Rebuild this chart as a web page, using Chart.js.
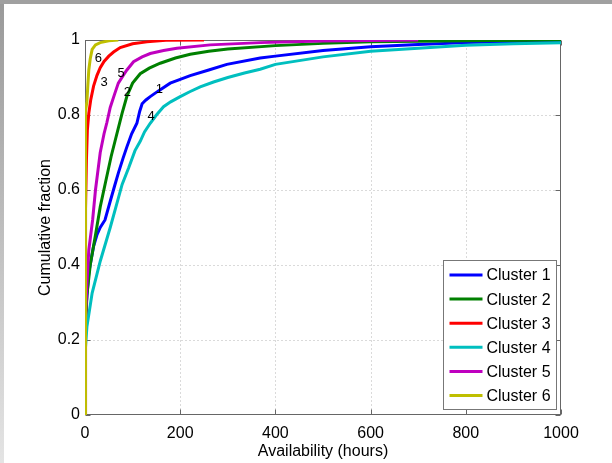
<!DOCTYPE html>
<html>
<head>
<meta charset="utf-8">
<script src="https://cdn.jsdelivr.net/npm/chart.js@4"></script>
<style>
  body { margin: 0; background: #fff; }
  canvas { display: block; }
</style>
</head>
<body>
<canvas id="cdfChart" width="612" height="463"></canvas>
<script>
// availability (hours) vs cumulative fraction
const c1Hours = [0, 0.5, 3, 8, 18, 25, 32, 42, 53, 62, 70, 80, 88, 98, 109, 115, 120, 128, 137, 155, 179, 200, 221, 260, 298, 368, 400, 500, 600, 700, 800, 900, 1000];
const c1Frac  = [0, 0.25, 0.3, 0.38, 0.45, 0.48, 0.5, 0.52, 0.57, 0.61, 0.645, 0.685, 0.715, 0.75, 0.778, 0.81, 0.83, 0.84, 0.849, 0.865, 0.885, 0.895, 0.905, 0.92, 0.935, 0.952, 0.957, 0.972, 0.982, 0.988, 0.993, 0.996, 0.998];

const c2Hours = [0, 1, 4, 11, 22, 32, 43, 55, 63, 70, 78, 88, 100, 116, 135, 158, 190, 221, 260, 300, 400, 500, 600, 800, 1000];
const c2Frac  = [0, 0.22, 0.32, 0.4, 0.48, 0.555, 0.62, 0.69, 0.73, 0.765, 0.805, 0.85, 0.885, 0.91, 0.925, 0.938, 0.952, 0.962, 0.97, 0.976, 0.985, 0.991, 0.995, 0.998, 1];

const c3Hours = [0, 0.5, 1, 2, 3, 5, 8, 12, 18, 25, 32, 40, 50, 60, 74, 100, 130, 170, 250];
const c3Frac  = [0, 0.1, 0.3, 0.55, 0.68, 0.76, 0.805, 0.84, 0.877, 0.905, 0.926, 0.943, 0.957, 0.968, 0.98, 0.99, 0.995, 0.999, 1];

const c4Hours = [0, 0.5, 4, 15, 32, 53, 65, 78, 92, 105, 116, 125, 137, 150, 165, 180, 200, 220, 242, 270, 300, 335, 368, 400, 450, 500, 600, 700, 800, 900, 1000];
const c4Frac  = [0, 0.17, 0.235, 0.325, 0.41, 0.5, 0.555, 0.615, 0.66, 0.705, 0.73, 0.755, 0.778, 0.8, 0.822, 0.835, 0.849, 0.862, 0.875, 0.888, 0.9, 0.912, 0.922, 0.935, 0.945, 0.955, 0.97, 0.978, 0.986, 0.99, 0.993];

const c5Hours = [0, 0.5, 1, 4, 8, 16, 22, 32, 40, 46, 53, 62, 70, 80, 88, 102, 120, 137, 165, 193, 263, 368, 500, 700];
const c5Frac  = [0, 0.2, 0.25, 0.35, 0.44, 0.52, 0.6, 0.7, 0.75, 0.78, 0.82, 0.855, 0.885, 0.905, 0.92, 0.942, 0.955, 0.964, 0.972, 0.978, 0.987, 0.993, 0.997, 1];

const c6Hours = [0, 0, 2, 4, 6, 8, 11, 15, 22, 32, 50, 70];
const c6Frac  = [0, 0.78, 0.81, 0.835, 0.88, 0.92, 0.95, 0.975, 0.987, 0.993, 0.998, 1];

const clusterNames = ['Cluster 1', 'Cluster 2', 'Cluster 3', 'Cluster 4', 'Cluster 5', 'Cluster 6'];
const clusterColors = ['#0000ff', '#008000', '#ff0000', '#00bfbf', '#bf00bf', '#bfbf00'];

const xTicks = [0, 200, 400, 600, 800, 1000];
const yTicks = [0, 0.2, 0.4, 0.6, 0.8, 1];

// little curve numbers placed on the plot (data units)
const tagText  = ['6', '3', '5', '2', '1', '4'];
const tagHours = [28, 40, 76, 89, 156, 139];
const tagFrac  = [0.952, 0.888, 0.912, 0.861, 0.869, 0.797];

const allHours = [c1Hours, c2Hours, c3Hours, c4Hours, c5Hours, c6Hours];
const allFrac = [c1Frac, c2Frac, c3Frac, c4Frac, c5Frac, c6Frac];

Chart.defaults.font.family = '"Liberation Sans", Arial, sans-serif';
Chart.defaults.font.size = 16;
Chart.defaults.color = '#000';

const matlabLook = {
  id: 'matlabLook',
  beforeDraw(chart) {
    const ctx = chart.ctx;
    ctx.save();
    ctx.fillStyle = '#fff';
    ctx.fillRect(0, 0, chart.width, chart.height);
    // grey window edge, top and left
    const g = ctx.createLinearGradient(0, 0, 0, chart.height);
    g.addColorStop(0, '#999');
    g.addColorStop(1, '#e4e4e4');
    ctx.fillStyle = g;
    ctx.fillRect(0, 0, 4, chart.height);
    ctx.fillStyle = '#a0a0a0';
    ctx.fillRect(0, 0, chart.width, 4);
    ctx.restore();
  },
  beforeDatasetsDraw(chart) {
    const {ctx, chartArea: a, scales: {x, y}} = chart;
    const L = Math.round(a.left) + 0.5, R = Math.round(a.right) - 0.5;
    const T = Math.round(a.top) + 0.5, B = Math.round(a.bottom) - 0.5;
    ctx.save();
    // dotted grid
    ctx.strokeStyle = '#b4b4b4';
    ctx.lineWidth = 1;
    ctx.setLineDash([1, 3]);
    ctx.beginPath();
    xTicks.slice(1, -1).forEach(v => {
      const px = Math.round(x.getPixelForValue(v)) + 0.5;
      ctx.moveTo(px, T); ctx.lineTo(px, B);
    });
    yTicks.slice(1, -1).forEach(v => {
      const py = Math.round(y.getPixelForValue(v)) + 0.5;
      ctx.moveTo(L, py); ctx.lineTo(R, py);
    });
    ctx.stroke();
    ctx.setLineDash([]);
    // box and inward ticks
    ctx.strokeStyle = '#666';
    ctx.strokeRect(L, T, R - L, B - T);
    ctx.beginPath();
    xTicks.forEach(v => {
      const px = Math.round(x.getPixelForValue(v)) + 0.5;
      ctx.moveTo(px, B); ctx.lineTo(px, B - 5);
      ctx.moveTo(px, T); ctx.lineTo(px, T + 5);
    });
    yTicks.forEach(v => {
      const py = Math.round(y.getPixelForValue(v)) + 0.5;
      ctx.moveTo(L, py); ctx.lineTo(L + 5, py);
      ctx.moveTo(R, py); ctx.lineTo(R - 5, py);
    });
    ctx.stroke();
    ctx.restore();
  },
  afterDraw(chart) {
    const {ctx, chartArea: a, scales: {x, y}} = chart;
    ctx.save();
    // curve numbers
    ctx.font = '13px "Liberation Sans", Arial, sans-serif';
    ctx.fillStyle = '#000';
    ctx.textAlign = 'center';
    ctx.textBaseline = 'middle';
    tagText.forEach((t, i) => {
      ctx.fillText(t, x.getPixelForValue(tagHours[i]), y.getPixelForValue(tagFrac[i]));
    });
    // legend box, bottom right
    const lx = Math.round(a.right) - 117.5, ly = Math.round(a.bottom) - 154.5;
    ctx.fillStyle = '#fff';
    ctx.fillRect(lx, ly, 113, 149);
    ctx.strokeStyle = '#777';
    ctx.lineWidth = 1;
    ctx.strokeRect(lx, ly, 113, 149);
    ctx.font = '16px "Liberation Sans", Arial, sans-serif';
    ctx.textAlign = 'left';
    clusterNames.forEach((name, i) => {
      const ry = ly + 14.5 + i * 24.1;
      ctx.strokeStyle = clusterColors[i];
      ctx.lineWidth = 3;
      ctx.beginPath();
      ctx.moveTo(lx + 6, ry); ctx.lineTo(lx + 39, ry);
      ctx.stroke();
      ctx.fillStyle = '#000';
      ctx.fillText(name, lx + 43, ry + 1);
    });
    ctx.restore();
  }
};

const ctx = document.getElementById('cdfChart').getContext('2d');
new Chart(ctx, {
  type: 'line',
  data: {
    datasets: clusterNames.map((name, i) => ({
      label: name,
      data: allHours[i].map((h, j) => ({x: h, y: allFrac[i][j]})),
      borderColor: clusterColors[i],
      borderWidth: 3,
      pointRadius: 0,
      fill: false,
      tension: 0,
      order: 6 - i
    }))
  },
  options: {
    responsive: false,
    animation: false,
    layout: { padding: { left: 0, top: 40, right: 51, bottom: 0 } },
    plugins: {
      legend: { display: false },
      tooltip: { enabled: false }
    },
    scales: {
      x: {
        type: 'linear',
        min: 0,
        max: 1000,
        afterBuildTicks: s => { s.ticks = xTicks.map(v => ({value: v})); },
        afterFit: s => { s.height = 48; },
        grid: { display: false, drawTicks: false },
        border: { display: false },
        ticks: { padding: 9, maxRotation: 0, callback: v => String(v) },
        title: { display: true, text: 'Availability (hours)', padding: { top: 0, bottom: 2 } }
      },
      y: {
        min: 0,
        max: 1,
        afterBuildTicks: s => { s.ticks = yTicks.map(v => ({value: v})); },
        afterFit: s => { s.width = 85; },
        grid: { display: false, drawTicks: false },
        border: { display: false },
        ticks: { padding: 5, callback: v => String(v) },
        title: { display: true, text: 'Cumulative fraction', padding: { top: 36, bottom: 0 } }
      }
    }
  },
  plugins: [matlabLook]
});
</script>
</body>
</html>
